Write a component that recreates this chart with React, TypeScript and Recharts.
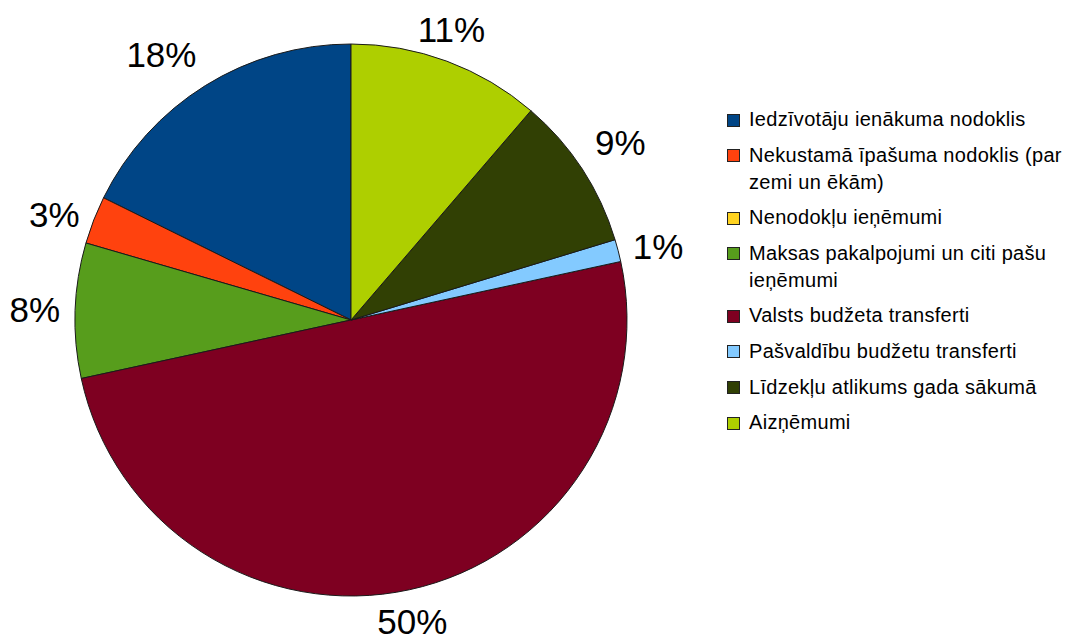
import { PieChart, Pie, Cell, Legend } from 'recharts'

const categories = [
  'Iedzīvotāju ienākuma nodoklis',
  'Nekustamā īpašuma nodoklis (par zemi un ēkām)',
  'Nenodokļu ieņēmumi',
  'Maksas pakalpojumi un citi pašu ieņēmumi',
  'Valsts budžeta transferti',
  'Pašvaldību budžetu transferti',
  'Līdzekļu atlikums gada sākumā',
  'Aizņēmumi'
]

// share of total, percent
const shares = [17.7, 2.8, 0, 7.9, 50.0, 1.3, 9.0, 11.3]

const colors = ['#004586', '#ff420e', '#ffd320', '#579d1c', '#7e0021', '#83caff', '#314004', '#aecf00']

const chartData = categories.map((name, i) => ({ name, value: shares[i] }))

const RAD = Math.PI / 180
const LABEL_SIZE = 35

// label box sits against an anchor just outside the rim, side chosen by octant
const renderLabel = (props: any) => {
  const { cx, cy, midAngle, outerRadius, percent, value } = props
  if (!value) return null
  const a = ((midAngle % 360) + 360) % 360
  const r = outerRadius + 13
  const ax = cx + r * Math.cos(a * RAD)
  const ay = cy - r * Math.sin(a * RAD)
  const ascent = 0.905 * LABEL_SIZE
  const descent = 0.212 * LABEL_SIZE
  const oct = Math.floor(((a + 22.5) % 360) / 45)
  // 0 right, 1 right-top, 2 top, 3 left-top, 4 left, 5 left-bottom, 6 bottom, 7 right-bottom
  let anchor: 'start' | 'middle' | 'end' = 'middle'
  let x = ax
  if ([0, 1, 7].includes(oct)) { anchor = 'start'; x = ax + 2 }
  if ([3, 4, 5].includes(oct)) { anchor = 'end'; x = ax - 2 }
  let y = ay + (ascent - descent) / 2
  if ([1, 2, 3].includes(oct)) y = ay - descent
  if ([5, 6, 7].includes(oct)) y = ay + ascent
  return (
    <text
      x={x}
      y={y}
      fill="#000"
      fontSize={LABEL_SIZE}
      fontFamily="'Liberation Sans', Arial, sans-serif"
      textAnchor={anchor}
    >
      {`${Math.round(percent * 100)}%`}
    </text>
  )
}

const renderLegend = () => (
  <div style={{ fontFamily: "'Liberation Sans', Arial, sans-serif", fontSize: 20, letterSpacing: 0.3, color: '#000' }}>
    {categories.map((name, index) => (
      <div key={`item-${index}`} style={{ display: 'flex', alignItems: 'flex-start', marginBottom: 8.6 }}>
        <div
          style={{
            width: 11,
            height: 11,
            marginTop: 7.5,
            marginRight: 9,
            flexShrink: 0,
            background: colors[index],
            border: '1px solid #222'
          }}
        />
        <div style={{ lineHeight: '27px', width: 345 }}>{name}</div>
      </div>
    ))}
  </div>
)

export default function App() {
  return (
    <div style={{ position: 'absolute', left: 0, top: 0, width: 1071, height: 639, background: '#fff', overflow: 'hidden' }}>
      <PieChart width={1071} height={639} margin={{ top: 0, right: 0, bottom: 0, left: 0 }}>
        <Pie
          data={chartData}
          dataKey="value"
          nameKey="name"
          cx={351}
          cy={320}
          outerRadius={276}
          startAngle={90}
          endAngle={450}
          stroke="#1a1a1a"
          strokeWidth={1}
          label={renderLabel}
          labelLine={false}
          isAnimationActive={false}
        >
          {chartData.map((entry, index) => (
            <Cell key={`cell-${index}`} fill={colors[index]} />
          ))}
        </Pie>
        <Legend
          layout="vertical"
          align="right"
          verticalAlign="top"
          content={renderLegend}
          wrapperStyle={{ left: 727, top: 106, right: 'auto', bottom: 'auto', width: 380 }}
        />
      </PieChart>
    </div>
  )
}
